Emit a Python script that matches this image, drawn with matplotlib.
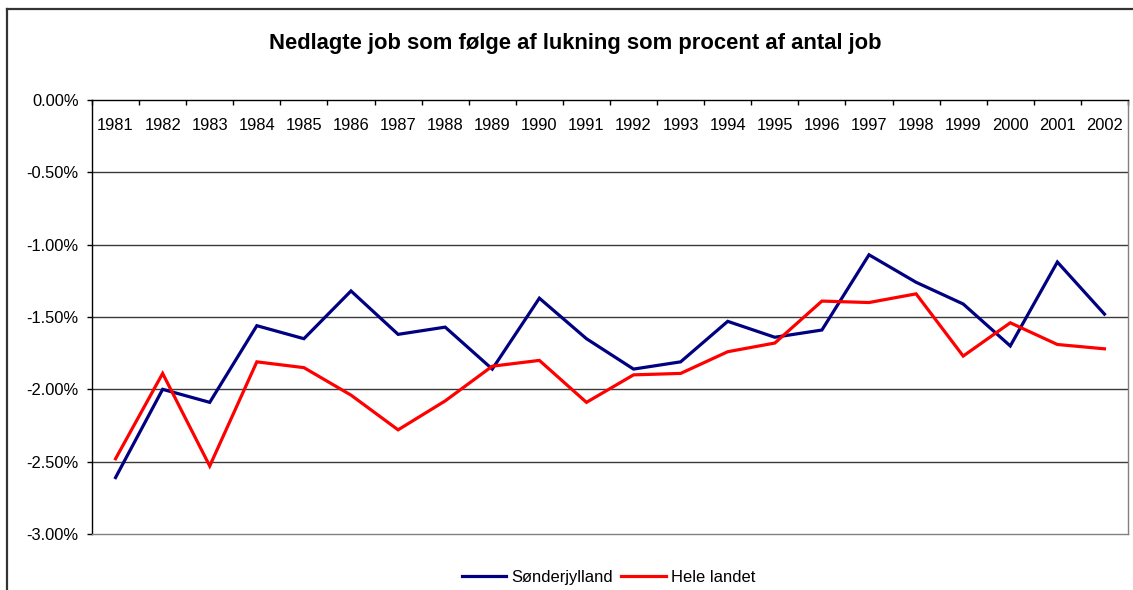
import matplotlib
matplotlib.use('Agg')
import matplotlib.pyplot as plt
import numpy as np
from matplotlib.lines import Line2D
from matplotlib.ticker import FuncFormatter

plt.rcParams['font.family'] = ['Liberation Sans', 'DejaVu Sans']

# data (percent)
years = [str(y) for y in range(1981, 2003)]
soenderjylland = [-2.61, -2.00, -2.09, -1.56, -1.65, -1.32, -1.62, -1.57, -1.86, -1.37, -1.65,
                  -1.86, -1.81, -1.53, -1.64, -1.59, -1.07, -1.26, -1.41, -1.70, -1.12, -1.48]
hele_landet = [-2.48, -1.89, -2.53, -1.81, -1.85, -2.04, -2.28, -2.08, -1.84, -1.80, -2.09,
               -1.90, -1.89, -1.74, -1.68, -1.39, -1.40, -1.34, -1.77, -1.54, -1.69, -1.72]
y_ticks = [0, -0.5, -1.0, -1.5, -2.0, -2.5, -3.0]

fig = plt.figure(figsize=(11.33, 5.90), dpi=100)
ax = fig.add_axes([92/1133, 1-534/590, 1036/1133, 434/590])

x = np.arange(len(years))
ax.plot(x, soenderjylland, color='#000080', lw=2.3, label='Sønderjylland', solid_joinstyle='miter')
ax.plot(x, hele_landet, color='#ff0000', lw=2.3, label='Hele landet', solid_joinstyle='miter')

ax.set_xlim(-0.5, len(years) - 0.5)
ax.set_ylim(-3, 0)

# horizontal gridlines
for v in y_ticks[1:-1]:
    ax.axhline(v, color='#3a3a3a', lw=1, zorder=0)

ax.set_yticks(y_ticks)
ax.yaxis.set_major_formatter(FuncFormatter(lambda v, p: f'{v:.2f}%'))
ax.tick_params(axis='y', direction='out', length=3.6, width=1, pad=6, labelsize=11.9, colors='black')

# category labels along the zero line, inside the plot
ax.xaxis.set_ticks_position('top')
ax.set_xticks(x)
ax.set_xticklabels(years)
ax.set_xticks(np.arange(-0.5, len(years)), minor=True)
ax.tick_params(axis='x', which='major', top=True, bottom=False, labeltop=True, labelbottom=False,
               length=0, pad=-23.5, labelsize=11.9)
ax.tick_params(axis='x', which='minor', top=True, bottom=False, direction='in', length=3.6, width=1)

ax.spines['left'].set_color('black')
ax.spines['top'].set_color('black')
ax.spines['bottom'].set_color('#808080')
ax.spines['right'].set_color('#808080')
for s in ax.spines.values():
    s.set_linewidth(1)

fig.text(0.5075, 0.927, 'Nedlagte job som følge af lukning som procent af antal job',
         ha='center', va='center', fontsize=15.8, fontweight='bold')

fig.legend(loc='center', bbox_to_anchor=(0.537, 0.022), ncol=2, frameon=False, fontsize=11.9,
           handlelength=2.7, handletextpad=0.3, columnspacing=0.5)

# outer chart frame (runs off the right and bottom edges)
fig.add_artist(Line2D([7/1133, 7/1133], [-0.1, 1-9/590], color='#333333', lw=1.6, transform=fig.transFigure))
fig.add_artist(Line2D([7/1133, 1.1], [1-9/590, 1-9/590], color='#333333', lw=1.6, transform=fig.transFigure))

fig.savefig('out.png', dpi=100)
